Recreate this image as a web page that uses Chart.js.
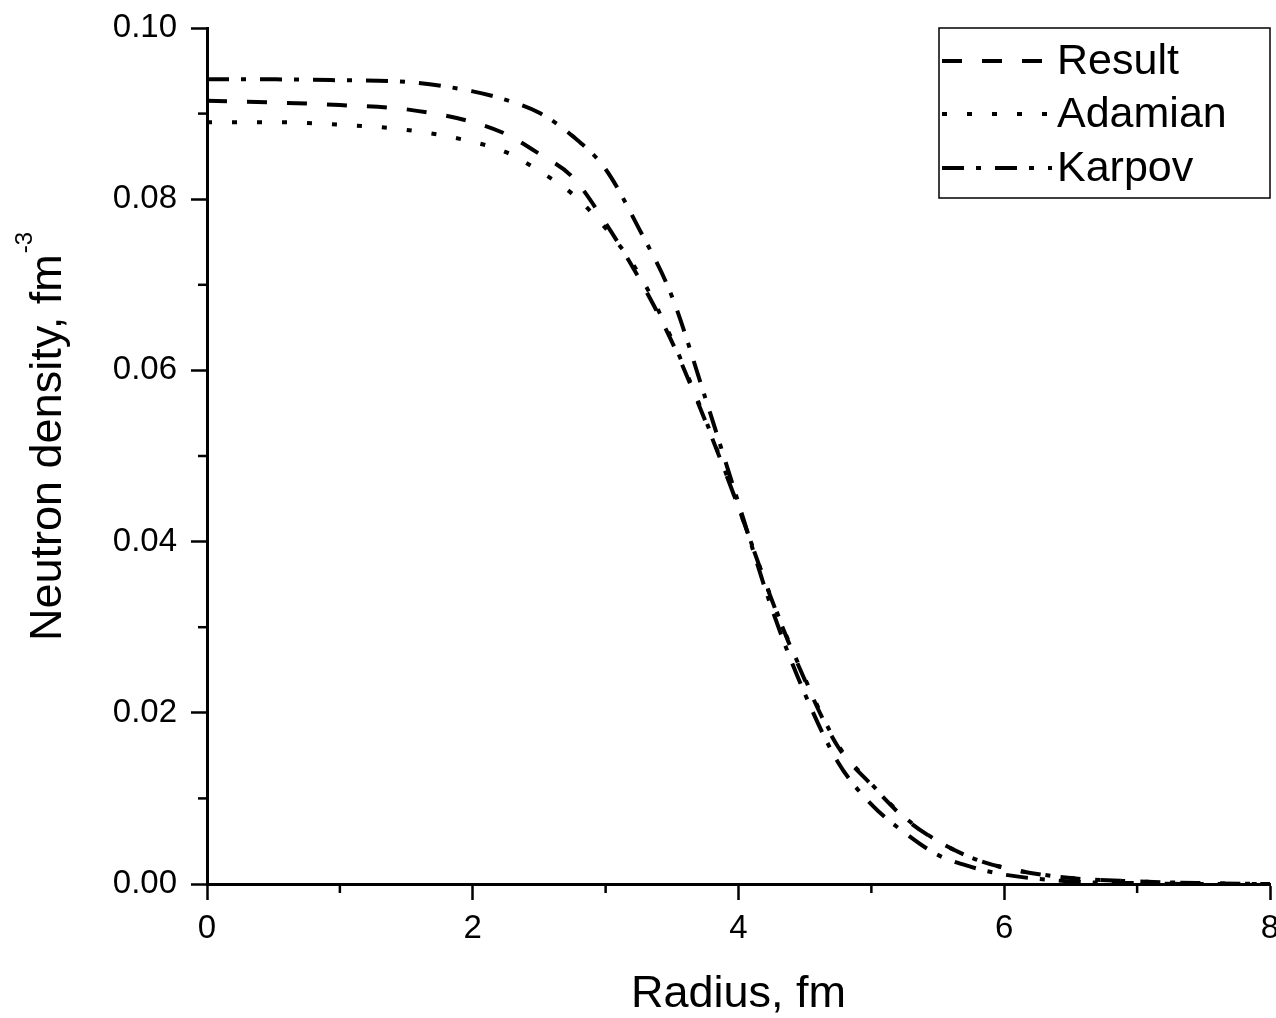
<!DOCTYPE html>
<html>
<head>
<meta charset="utf-8">
<title>Neutron density</title>
<script src="https://cdn.jsdelivr.net/npm/chart.js@4.4.1/dist/chart.umd.min.js"></script>
<style>
  html, body { margin: 0; padding: 0; background: #fff; }
  #densityChart { display: block; }
</style>
</head>
<body>
<canvas id="densityChart" width="1276" height="1018"></canvas>
<script>
// values (radius in fm, density in fm^-3)
const radius  = [0, 0.5, 1.0, 1.5, 2.0, 2.25, 2.5, 2.75, 3.0, 3.25, 3.5, 3.75, 4.0, 4.25, 4.5, 4.75, 5.0, 5.25, 5.5, 5.75, 6.0, 6.5, 7.0, 7.5, 8.0];
const result  = [0.0915, 0.0913, 0.0910, 0.0905, 0.0890, 0.0876, 0.0853, 0.0826, 0.0772, 0.0708, 0.0633, 0.0541, 0.0440, 0.0332, 0.0238, 0.0160, 0.0116, 0.0077, 0.0050, 0.0031, 0.0019, 0.0007, 0.0003, 0.0001, 0.0000];
const adamian = [0.0890, 0.0890, 0.0887, 0.0881, 0.0867, 0.0855, 0.0833, 0.0806, 0.0766, 0.0713, 0.0636, 0.0543, 0.0440, 0.0333, 0.0240, 0.0162, 0.0117, 0.0078, 0.0050, 0.0031, 0.0019, 0.0007, 0.0003, 0.0001, 0.0000];
const karpov  = [0.0940, 0.0940, 0.0939, 0.0937, 0.0926, 0.0916, 0.0901, 0.0874, 0.0835, 0.0766, 0.0686, 0.0568, 0.0445, 0.0322, 0.0222, 0.0142, 0.0093, 0.0060, 0.0034, 0.0020, 0.0011, 0.0003, 0.0001, 0.0000, 0.0000];

const xTickLabels = ["0", "2", "4", "6", "8"];
const yTickLabels = ["0.00", "0.02", "0.04", "0.06", "0.08", "0.10"];

const FONT = "'Liberation Sans', Arial, Helvetica, sans-serif";

function pts(ys) {
  return radius.map((r, i) => ({ x: r, y: ys[i] }));
}

function xLabel(v) {
  const s = String(Math.round(v));
  return xTickLabels.includes(s) ? s : "";
}

function yLabel(v) {
  const s = v.toFixed(2);
  return yTickLabels.includes(s) ? s : "";
}

// short minor ticks (chart.js only has one tick length)
const minorTicks = {
  id: "minorTicks",
  afterDraw(chart) {
    const ctx = chart.ctx;
    const area = chart.chartArea;
    ctx.save();
    ctx.strokeStyle = "#000";
    ctx.lineWidth = 2.5;
    const ys = chart.scales.y;
    ys.ticks.forEach(t => {
      if (yLabel(t.value) !== "") return;
      const py = ys.getPixelForValue(t.value);
      ctx.beginPath();
      ctx.moveTo(area.left, py);
      ctx.lineTo(area.left - 9, py);
      ctx.stroke();
    });
    const xs = chart.scales.x;
    xs.ticks.forEach(t => {
      if (xLabel(t.value) !== "") return;
      const px = xs.getPixelForValue(t.value);
      ctx.beginPath();
      ctx.moveTo(px, area.bottom);
      ctx.lineTo(px, area.bottom + 9);
      ctx.stroke();
    });
    ctx.restore();
  }
};

// y title with a superscript
const yTitle = {
  id: "yTitle",
  afterDraw(chart) {
    const ctx = chart.ctx;
    ctx.save();
    ctx.translate(61, 641);
    ctx.rotate(-Math.PI / 2);
    ctx.fillStyle = "#000";
    ctx.textBaseline = "alphabetic";
    ctx.textAlign = "left";
    ctx.font = "45px " + FONT;
    const main = "Neutron density, fm";
    ctx.fillText(main, 0, 0);
    const w = ctx.measureText(main).width;
    ctx.font = "24px " + FONT;
    ctx.fillText("-3", w + 1, -29);
    ctx.restore();
  }
};

// boxed legend in the top right corner
const boxLegend = {
  id: "boxLegend",
  afterDraw(chart) {
    const ctx = chart.ctx;
    const right = chart.chartArea.right;
    const left = 939, top = 28, bottom = 198;
    const rows = [61, 114, 168];
    ctx.save();
    ctx.fillStyle = "#fff";
    ctx.fillRect(left, top, right - left, bottom - top);
    ctx.strokeStyle = "#000";
    ctx.lineWidth = 1.5;
    ctx.strokeRect(left, top, right - left, bottom - top);
    chart.data.datasets.forEach((ds, i) => {
      const y = rows[i];
      ctx.beginPath();
      ctx.setLineDash(ds.borderDash);
      ctx.lineWidth = ds.borderWidth;
      ctx.strokeStyle = ds.borderColor;
      ctx.moveTo(942, y);
      ctx.lineTo(1052, y);
      ctx.stroke();
      ctx.setLineDash([]);
      ctx.fillStyle = "#000";
      ctx.font = "43px " + FONT;
      ctx.textBaseline = "middle";
      ctx.textAlign = "left";
      ctx.fillText(ds.label, 1057, y + 1);
    });
    ctx.restore();
  }
};

const lineStyle = {
  borderColor: "#000",
  borderWidth: 4,
  pointRadius: 0,
  fill: false,
  cubicInterpolationMode: "monotone",
  borderCapStyle: "butt"
};

new Chart(document.getElementById("densityChart"), {
  type: "line",
  data: {
    datasets: [
      { ...lineStyle, label: "Result",  data: pts(result),  borderDash: [20, 20] },
      { ...lineStyle, label: "Adamian", data: pts(adamian), borderDash: [5, 20] },
      { ...lineStyle, label: "Karpov",  data: pts(karpov),  borderDash: [22, 12, 5, 14] }
    ]
  },
  options: {
    responsive: false,
    animation: false,
    devicePixelRatio: 1,
    layout: { padding: { top: 28, right: 6, left: 0, bottom: 0 } },
    plugins: {
      legend: { display: false },
      tooltip: { enabled: false }
    },
    scales: {
      x: {
        type: "linear",
        position: "bottom",
        min: 0,
        max: 8,
        border: { display: true, color: "#000", width: 3 },
        grid: {
          display: true,
          drawOnChartArea: false,
          drawTicks: true,
          tickLength: 16,
          tickWidth: 2.5,
          tickColor: c => (xLabel(c.tick.value) !== "" ? "#000" : "rgba(0,0,0,0)")
        },
        ticks: {
          stepSize: 1,
          padding: 9,
          color: "#000",
          autoSkip: false,
          maxRotation: 0,
          font: { family: FONT, size: 33 },
          callback: v => xLabel(v)
        },
        title: {
          display: true,
          text: "Radius, fm",
          color: "#000",
          font: { family: FONT, size: 45, lineHeight: 1 },
          padding: { top: 0, bottom: 1 }
        },
        afterFit: s => { s.height = 134; s.paddingLeft = 0; s.paddingRight = 0; }
      },
      y: {
        type: "linear",
        position: "left",
        min: 0,
        max: 0.1,
        border: { display: true, color: "#000", width: 3 },
        grid: {
          display: true,
          drawOnChartArea: false,
          drawTicks: true,
          tickLength: 16,
          tickWidth: 2.5,
          tickColor: c => (yLabel(c.tick.value) !== "" ? "#000" : "rgba(0,0,0,0)")
        },
        ticks: {
          stepSize: 0.01,
          padding: 14,
          color: "#000",
          autoSkip: false,
          font: { family: FONT, size: 33 },
          callback: v => yLabel(v)
        },
        afterFit: s => { s.width = 207; s.paddingTop = 0; s.paddingBottom = 0; }
      }
    }
  },
  plugins: [minorTicks, yTitle, boxLegend]
});
</script>
</body>
</html>
